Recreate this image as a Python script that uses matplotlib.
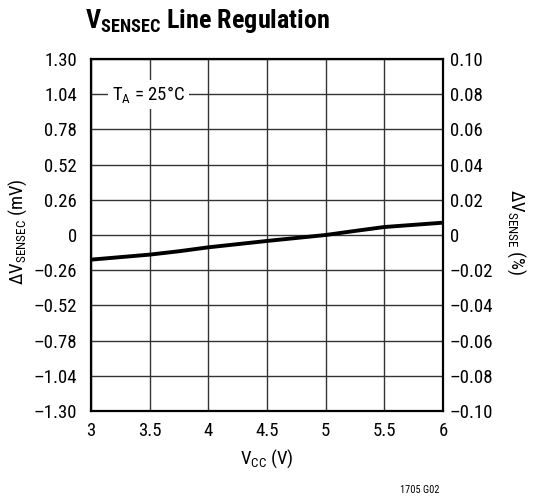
import matplotlib
matplotlib.use("Agg")
import matplotlib.pyplot as plt
from matplotlib import font_manager

# data
vcc = [3.0, 3.5, 3.75, 4.0, 4.5, 5.0, 5.25, 5.5, 6.0]
dv_mv = [-0.182, -0.145, -0.120, -0.091, -0.044, 0.0, 0.030, 0.059, 0.091]
left_ticks = [-1.30, -1.04, -0.78, -0.52, -0.26, 0, 0.26, 0.52, 0.78, 1.04, 1.30]
left_labels = ["\u20131.30", "\u20131.04", "\u20130.78", "\u20130.52", "\u20130.26", "0",
               "0.26", "0.52", "0.78", "1.04", "1.30"]
right_ticks = [-0.10, -0.08, -0.06, -0.04, -0.02, 0, 0.02, 0.04, 0.06, 0.08, 0.10]
right_labels = ["\u20130.10", "\u20130.08", "\u20130.06", "\u20130.04", "\u20130.02", "0",
                "0.02", "0.04", "0.06", "0.08", "0.10"]
x_ticks = [3, 3.5, 4, 4.5, 5, 5.5, 6]
x_labels = ["3", "3.5", "4", "4.5", "5", "5.5", "6"]

names = {f.name for f in font_manager.fontManager.ttflist}
fam = "Liberation Sans"
for cand in ["Roboto Condensed", "Arial Narrow", "Liberation Sans Narrow",
             "PT Sans Narrow", "Archivo Narrow"]:
    if cand in names:
        fam = cand
        break
plt.rcParams['font.family'] = [fam, 'DejaVu Sans']
plt.rcParams['mathtext.fontset'] = 'custom'
plt.rcParams['mathtext.rm'] = fam
plt.rcParams['mathtext.it'] = fam
plt.rcParams['mathtext.bf'] = fam + ':bold'

fig = plt.figure(figsize=(5.33, 5.0), dpi=100)
ax = fig.add_axes([91/533, 1 - 411/500, 352/533, 352/500])

ax.plot(vcc, dv_mv, color='black', lw=2.8, solid_capstyle='butt', zorder=3)
ax.set_xlim(3, 6)
ax.set_ylim(-1.30, 1.30)
ax.set_xticks(x_ticks)
ax.set_xticklabels(x_labels)
ax.set_yticks(left_ticks)
ax.set_yticklabels(left_labels)
ax.grid(True, color='#333333', lw=1.0)
ax.tick_params(axis='both', length=0, labelsize=13.5)
ax.tick_params(axis='y', pad=10)
ax.tick_params(axis='x', pad=8)
for s in ax.spines.values():
    s.set_linewidth(1.6)

ax2 = ax.twinx()
ax2.set_ylim(-0.10, 0.10)
ax2.set_yticks(right_ticks)
ax2.set_yticklabels(right_labels)
ax2.tick_params(axis='y', length=0, labelsize=13.5, pad=5)
for s in ax2.spines.values():
    s.set_visible(False)

ax.set_xlabel(r"V$_{\mathrm{CC}}$ (V)", fontsize=13.5, labelpad=5)
fig.text(18/533, 1 - 232/500, "\u2206V$_{\\mathrm{SENSEC}}$ (mV)", rotation=90,
         ha='center', va='center', fontsize=13.5)
fig.text(516/533, 1 - 232/500, "\u2206V$_{\\mathrm{SENSE}}$ (%)", rotation=270,
         ha='center', va='center', fontsize=13.5)

ax.text(3.18, 1.04, r"T$_{\mathrm{A}}$ = 25°C", fontsize=13.5, ha='left', va='center',
        bbox=dict(facecolor='white', edgecolor='none', pad=3), zorder=4)

fig.text(85/533, 1 - 21/500, r"$\mathbf{V_{SENSEC}}$ Line Regulation", fontsize=18.8,
         fontweight='bold', ha='left', va='center')
fig.text(440/533, 1 - 490/500, "1705 G02", fontsize=7.5, ha='right', va='center')

fig.savefig("out.png", dpi=100)
